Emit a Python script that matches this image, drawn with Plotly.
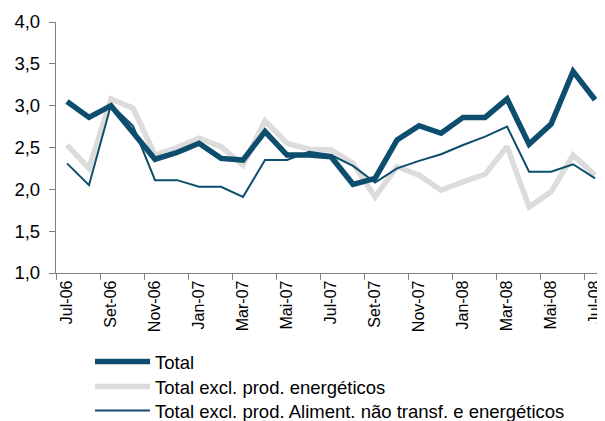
import plotly.graph_objects as go

months = ["Jul-06", "Ago-06", "Set-06", "Out-06", "Nov-06", "Dez-06", "Jan-07", "Fev-07",
          "Mar-07", "Abr-07", "Mai-07", "Jun-07", "Jul-07", "Ago-07", "Set-07", "Out-07",
          "Nov-07", "Dez-07", "Jan-08", "Fev-08", "Mar-08", "Abr-08", "Mai-08", "Jun-08", "Jul-08"]

total = [3.05, 2.86, 3.00, 2.67, 2.36, 2.44, 2.55, 2.37, 2.35, 2.69, 2.41, 2.41, 2.39,
         2.06, 2.13, 2.59, 2.76, 2.67, 2.86, 2.86, 3.08, 2.54, 2.78, 3.41, 3.07]
excl_energ = [2.53, 2.25, 3.08, 2.97, 2.41, 2.50, 2.61, 2.51, 2.29, 2.82, 2.55, 2.48, 2.47,
              2.31, 1.91, 2.27, 2.17, 1.99, 2.09, 2.18, 2.51, 1.79, 1.97, 2.41, 2.17]
excl_alim_energ = [2.31, 2.05, 3.01, 2.76, 2.11, 2.11, 2.03, 2.03, 1.91, 2.35, 2.35, 2.45, 2.41,
                   2.28, 2.08, 2.25, 2.34, 2.42, 2.53, 2.63, 2.75, 2.21, 2.21, 2.30, 2.13]

yticks = [1.0, 1.5, 2.0, 2.5, 3.0, 3.5, 4.0]
ytick_text = [f"{v:.1f}".replace(".", ",") for v in yticks]

dark = "#0d4d6d"
gray = "#dcdcdc"
font_family = "Arial, Liberation Sans, sans-serif"

fig = go.Figure()
fig.add_trace(go.Scatter(x=months, y=excl_energ, mode="lines", name="Total excl. prod. energéticos",
                         line=dict(color=gray, width=5.5), legend="legend2"))
fig.add_trace(go.Scatter(x=months, y=total, mode="lines", name="Total",
                         line=dict(color=dark, width=5.5), legend="legend"))
fig.add_trace(go.Scatter(x=months, y=excl_alim_energ, mode="lines",
                         name="Total excl. prod. Aliment. não transf. e energéticos",
                         line=dict(color=dark, width=2), legend="legend3"))

# page body has an 8px margin, so the figure is laid out 8px smaller
W, H = 597, 413
L, T, B, R = 48, 14, 148, 0
plot_h = H - T - B
axis_bottom = H - B


def leg(y_fig):
    return dict(x=(82 - L) / (W - L - R), y=(axis_bottom - y_fig) / plot_h,
                xanchor="left", yanchor="middle",
                font=dict(size=18.5, color="black"), bgcolor="rgba(0,0,0,0)",
                itemwidth=55, borderwidth=0)


fig.update_layout(
    width=W, height=H,
    margin=dict(l=L, r=R, t=T, b=B, autoexpand=False),
    paper_bgcolor="white", plot_bgcolor="white",
    font=dict(family=font_family, color="black"),
    showlegend=True,
    legend=leg(354), legend2=leg(379), legend3=leg(403),
)
fig.update_xaxes(
    type="category", range=[-0.5, 24.45], dtick=2, tickson="boundaries",
    tickangle=-90, ticks="outside", ticklen=6, tickcolor="#808080",
    showline=True, linecolor="#808080", linewidth=1.3, showgrid=False,
    tickfont=dict(size=16, color="black"), automargin=False,
)
fig.update_yaxes(
    range=[1.0, 4.0], tickvals=yticks, ticktext=ytick_text,
    ticks="outside", ticklen=6, tickcolor="#808080",
    showline=True, linecolor="#808080", linewidth=1.3, showgrid=False,
    tickfont=dict(size=18.5, color="black"), zeroline=False, automargin=False,
    ticklabelstandoff=5,
)

fig.write_html("out.html")
